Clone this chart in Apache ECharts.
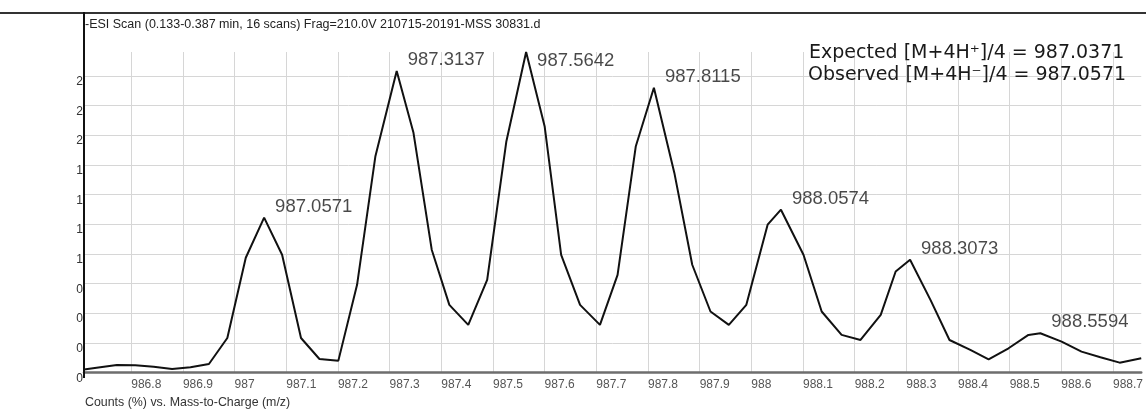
<!DOCTYPE html>
<html>
<head>
<meta charset="utf-8">
<script src="https://cdn.jsdelivr.net/npm/echarts@6/dist/echarts.min.js"></script>
<style>
  html, body { margin: 0; padding: 0; background: #fff; }
  #chart { width: 1146px; height: 420px; }
</style>
</head>
<body>
<div id="chart"></div>
<script>
// Profile spectrum of the [M+4H]4+ isotope envelope (m/z vs. counts)
const mz = [
  986.7085, 986.7364, 986.7721, 986.8077, 986.8434, 986.8790, 986.9146, 986.9503,
  986.9859, 987.0216, 987.0571, 987.0919, 987.1285, 987.1642, 987.2008,
  987.2370, 987.2725, 987.3137, 987.3462, 987.3815, 987.4156, 987.4522,
  987.4888, 987.5260, 987.5642, 987.6000, 987.6320, 987.6686, 987.7071,
  987.7412, 987.7765, 987.8115, 987.8511, 987.8857, 987.9210, 987.9565,
  987.9904, 988.0316, 988.0574, 988.1010, 988.1362, 988.1748, 988.2114,
  988.2505, 988.2794, 988.3073, 988.3470, 988.3836, 988.4239, 988.4593,
  988.4979, 988.5364, 988.5594, 988.6006, 988.6391, 988.6757, 988.7129, 988.7547
];
const counts = [
  0.025, 0.042, 0.063, 0.062, 0.048, 0.030, 0.044, 0.072,
  0.291, 0.967, 1.305, 0.992, 0.291, 0.114, 0.100,
  0.739, 1.823, 2.541, 2.020, 1.035, 0.570, 0.401,
  0.781, 1.949, 2.701, 2.076, 0.992, 0.570, 0.401,
  0.823, 1.907, 2.400, 1.682, 0.908, 0.514, 0.401,
  0.570, 1.246, 1.372, 0.992, 0.514, 0.317, 0.274,
  0.486, 0.851, 0.950, 0.610, 0.274, 0.190, 0.111,
  0.204, 0.317, 0.331, 0.260, 0.176, 0.129, 0.083, 0.120
];
// Labelled isotope peaks
const peakMz = [987.0571, 987.3137, 987.5642, 987.8115, 988.0574, 988.3073, 988.5594];

const xTicks = [986.8, 986.9, 987.0, 987.1, 987.2, 987.3, 987.4, 987.5, 987.6, 987.7,
                987.8, 987.9, 988.0, 988.1, 988.2, 988.3, 988.4, 988.5, 988.6, 988.7];
const yTicks = [0, 0.25, 0.5, 0.75, 1, 1.25, 1.5, 1.75, 2, 2.25, 2.5];

const headerText = '-ESI Scan (0.133-0.387 min, 16 scans) Frag=210.0V 210715-20191-MSS 30831.d';
const expectedText = 'Expected [M+4H\u207A]/4 = 987.0371';
const observedText = 'Observed [M+4H\u207B]/4 = 987.0571';
const footerText = 'Counts (%) vs. Mass-to-Charge (m/z)';

const FONT = "'Liberation Sans', Arial, Helvetica, sans-serif";
const NOTE_FONT = "'DejaVu Sans', Verdana, sans-serif";

const lineData = mz.map((m, i) => [m, counts[i]]);
const yMax = Math.max(...counts);
const peakData = peakMz.map(p => {
  const i = mz.indexOf(p);
  const y = counts[i];
  // the tallest peak has no room above it, so its label sits beside it
  const offset = y > yMax - 0.05 ? [11, 9] : [11, -11];
  return {
    value: [p, y],
    label: { offset: offset }
  };
});

const chart = echarts.init(document.getElementById('chart'), null, { renderer: 'canvas' });

chart.setOption({
  animation: false,
  backgroundColor: '#ffffff',
  grid: { left: 84, right: 0, top: 52, bottom: 47.5, containLabel: false },
  xAxis: {
    type: 'value',
    min: mz[0],
    max: mz[mz.length - 1],
    axisLine: { show: true, lineStyle: { color: '#6e6e6e', width: 2.5 } },
    axisTick: { show: false, customValues: xTicks },
    splitLine: { show: true, customValues: xTicks, lineStyle: { color: '#d6d6d6', width: 1 } },
    axisLabel: {
      customValues: xTicks,
      formatter: v => String(parseFloat(v.toFixed(1))),
      align: 'left',
      margin: 6,
      color: '#555',
      fontSize: 12,
      fontFamily: FONT
    }
  },
  yAxis: {
    type: 'value',
    min: 0,
    max: yMax,
    interval: 0.25,
    axisLine: { show: false },
    axisTick: { show: false },
    splitLine: { show: true, showMaxLine: false, lineStyle: { color: '#d6d6d6', width: 1 } },
    axisLabel: {
      showMaxLabel: false,
      formatter: v => String(Math.floor(v + 1e-9)),
      margin: 1,
      verticalAlign: 'top',
      color: '#333',
      fontSize: 12,
      fontFamily: FONT
    }
  },
  series: [
    {
      type: 'line',
      data: lineData,
      symbol: 'none',
      smooth: false,
      lineStyle: { color: '#111', width: 2 },
      z: 3
    },
    {
      type: 'scatter',
      data: peakData,
      symbolSize: 1,
      itemStyle: { color: 'rgba(0,0,0,0)' },
      label: {
        show: true,
        position: 'inside',
        align: 'left',
        verticalAlign: 'middle',
        formatter: p => p.value[0].toFixed(4),
        color: '#1a1a1a',
        fontSize: 18.5,
        fontFamily: FONT
      },
      z: 4
    }
  ],
  graphic: [
    { type: 'line', shape: { x1: 0, y1: 13, x2: 1146, y2: 13 }, style: { stroke: '#333', lineWidth: 2 }, z: 10 },
    { type: 'line', shape: { x1: 84, y1: 12, x2: 84, y2: 378 }, style: { stroke: '#111', lineWidth: 2 }, z: 10 },
    { type: 'text', x: 85, y: 25, style: { text: headerText, fill: '#222', font: '12.5px ' + FONT, textVerticalAlign: 'middle' }, z: 10 },
    { type: 'text', x: 809, y: 53, style: { text: expectedText, fill: '#1a1a1a', font: '19px ' + NOTE_FONT, textVerticalAlign: 'middle' }, z: 10 },
    { type: 'text', x: 808, y: 75.5, style: { text: observedText, fill: '#1a1a1a', font: '19px ' + NOTE_FONT, textVerticalAlign: 'middle' }, z: 10 },
    { type: 'text', x: 85, y: 403, style: { text: footerText, fill: '#333', font: '12.4px ' + FONT, textVerticalAlign: 'middle' }, z: 10 }
  ]
});
</script>
</body>
</html>
